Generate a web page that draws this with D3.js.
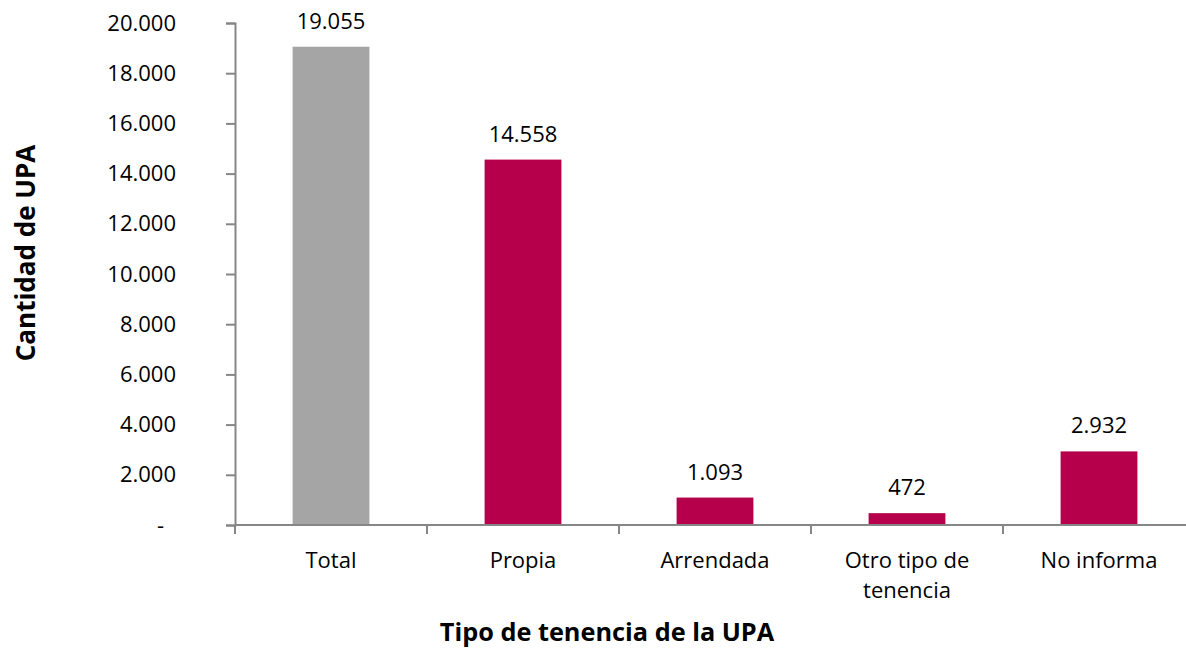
<!DOCTYPE html>
<html><head><meta charset="utf-8">
<script src="https://cdn.jsdelivr.net/npm/d3@7"></script>
<style>
html,body{margin:0;padding:0;background:#fff;}
svg{display:block;font-family:"Open Sans",sans-serif;}
</style></head>
<body><svg id="c" width="1186" height="657"></svg>
<script>
const categories = ["Total","Propia","Arrendada","Otro tipo de tenencia","No informa"];
const categoryLines = [["Total"],["Propia"],["Arrendada"],["Otro tipo de","tenencia"],["No informa"]];
const values = [19055,14558,1093,472,2932];
const yTicks = [0,2000,4000,6000,8000,10000,12000,14000,16000,18000,20000];
const yTitle = "Cantidad de UPA";
const xTitle = "Tipo de tenencia de la UPA";

const svg = d3.select("#c");
const locale = d3.formatLocale({decimal:",",thousands:".",grouping:[3],currency:["$",""]});
const fmt = locale.format(",d");
const x = d3.scaleBand().domain(categories).range([235,1195]).paddingInner(0.6).paddingOuter(0.3);
const y = d3.scaleLinear().domain([0,20000]).range([525,23]);
const axisColor = "#868686";
const fs = 22;

// y axis
const gy = svg.append("g").attr("transform","translate(235,0)")
  .call(d3.axisLeft(y).tickValues(yTicks).tickSize(9).tickPadding(50).tickFormat(d=>d===0?"-":fmt(d)));
gy.select(".domain").attr("stroke",axisColor).attr("stroke-width",2);
gy.selectAll(".tick line").attr("stroke",axisColor).attr("stroke-width",2);
gy.selectAll(".tick text").attr("font-size",fs).attr("fill","#000").attr("font-family","Open Sans");
gy.selectAll(".tick text").filter(d=>d===0).attr("dx",-12);

// bars
svg.append("g").selectAll("rect").data(values).join("rect")
  .attr("x",(d,i)=>x(categories[i]))
  .attr("width",x.bandwidth())
  .attr("y",d=>y(d))
  .attr("height",d=>y(0)-y(d))
  .attr("fill",(d,i)=>i===0?"#A5A5A5":"#B7004B");

// x axis
const gx = svg.append("g").attr("transform","translate(0,525)");
gx.append("line").attr("x1",235).attr("x2",1195).attr("y1",0).attr("y2",0).attr("stroke",axisColor).attr("stroke-width",2);
const step = x.step();
gx.selectAll("line.t").data(d3.range(categories.length+1)).join("line").attr("class","t")
  .attr("x1",i=>235+i*step).attr("x2",i=>235+i*step).attr("y1",0).attr("y2",9)
  .attr("stroke",axisColor).attr("stroke-width",2);

// category labels
const lab = svg.append("g").selectAll("text").data(categoryLines).join("text")
  .attr("text-anchor","middle").attr("font-size",fs).attr("fill","#000")
  .attr("x",(d,i)=>x(categories[i])+x.bandwidth()/2).attr("y",568);
lab.selectAll("tspan").data(d=>d).join("tspan")
  .attr("x",function(){return this.parentNode.getAttribute("x");})
  .attr("dy",(d,j)=>j===0?0:30).text(d=>d);

// value labels
svg.append("g").selectAll("text").data(values).join("text")
  .attr("text-anchor","middle").attr("font-size",fs).attr("fill","#000")
  .attr("x",(d,i)=>x(categories[i])+x.bandwidth()/2)
  .attr("y",d=>y(d)-18).text(d=>fmt(d));

// titles
svg.append("text").attr("text-anchor","middle").attr("font-weight","bold").attr("font-size",26)
  .attr("transform","translate(35,253) rotate(-90)").text(yTitle);
svg.append("text").attr("text-anchor","middle").attr("font-weight","bold").attr("font-size",25.3)
  .attr("x",607).attr("y",641).text(xTitle);
</script></body></html>
